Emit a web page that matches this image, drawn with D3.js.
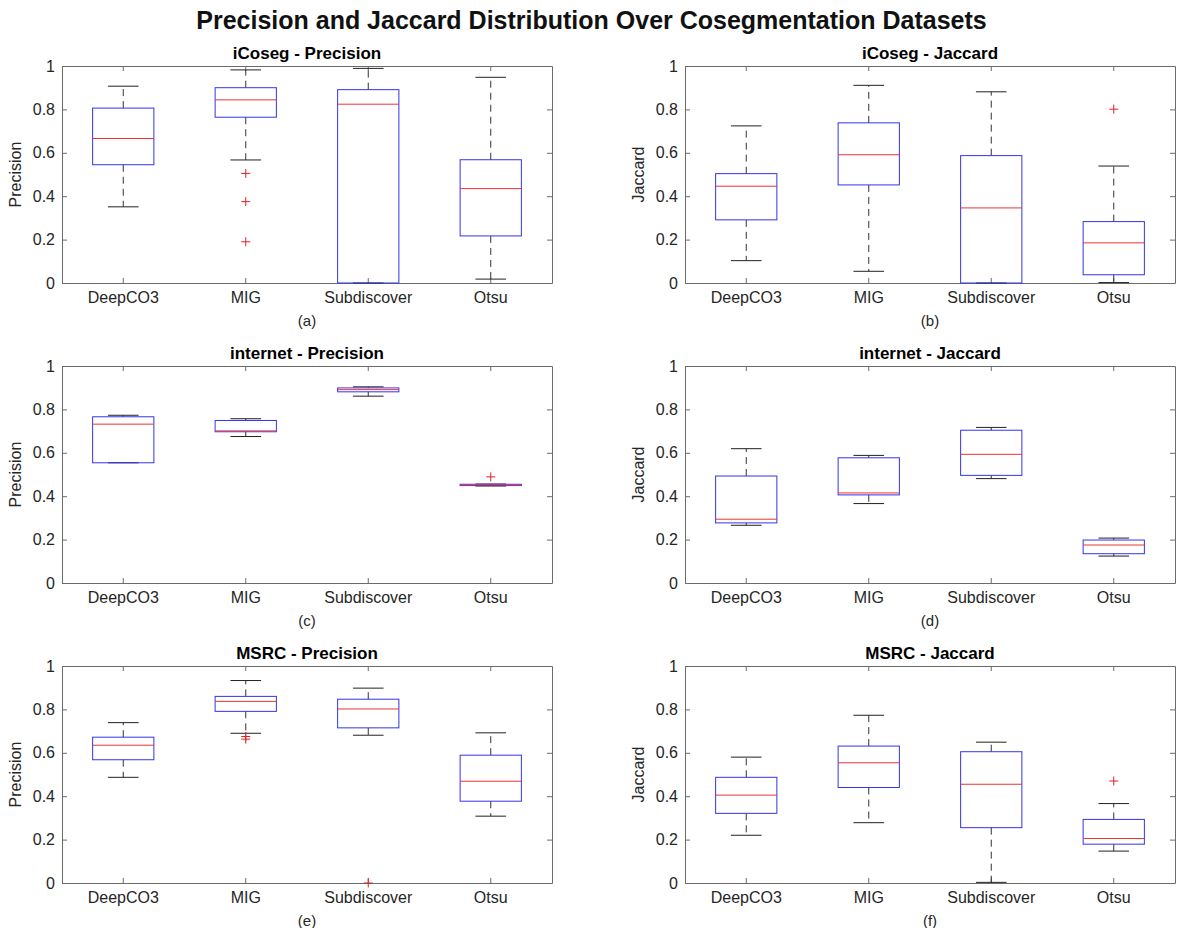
<!DOCTYPE html>
<html>
<head>
<meta charset="utf-8">
<script src="https://cdn.jsdelivr.net/npm/d3@7"></script>
<style>
  body { margin: 0; background: #fff; }
  text { font-family: "Liberation Sans", Arial, Helvetica, sans-serif; }
</style>
</head>
<body>
<svg id="chart"></svg>
<script>
// Categories and y ticks
const methods = ["DeepCO3", "MIG", "Subdiscover", "Otsu"];
const yTicks = [0, 0.2, 0.4, 0.6, 0.8, 1];

// Box stats per method: [lower whisker, Q1, median, Q3, upper whisker]
const icosegPrecision = [
  [0.351, 0.545, 0.666, 0.806, 0.907],
  [0.567, 0.764, 0.844, 0.900, 0.982],
  [0.000, 0.000, 0.824, 0.891, 0.989],
  [0.018, 0.217, 0.435, 0.568, 0.948]
];
const icosegPrecisionOut = [[], [0.505, 0.375, 0.190], [], []];

const icosegJaccard = [
  [0.103, 0.291, 0.446, 0.504, 0.724],
  [0.054, 0.452, 0.591, 0.738, 0.911],
  [0.000, 0.000, 0.346, 0.587, 0.881],
  [0.002, 0.038, 0.185, 0.283, 0.539]
];
const icosegJaccardOut = [[], [], [], [0.801]];

const internetPrecision = [
  [0.554, 0.554, 0.732, 0.766, 0.773],
  [0.675, 0.697, 0.701, 0.749, 0.757],
  [0.861, 0.881, 0.891, 0.899, 0.904],
  [0.447, 0.449, 0.452, 0.455, 0.456]
];
const internetPrecisionOut = [[], [], [], [0.489]];

const internetJaccard = [
  [0.266, 0.277, 0.294, 0.493, 0.619],
  [0.366, 0.406, 0.415, 0.577, 0.588],
  [0.481, 0.496, 0.593, 0.704, 0.717],
  [0.124, 0.135, 0.175, 0.198, 0.207]
];
const internetJaccardOut = [[], [], [], []];

const msrcPrecision = [
  [0.487, 0.568, 0.635, 0.672, 0.739],
  [0.690, 0.791, 0.837, 0.860, 0.933],
  [0.681, 0.715, 0.802, 0.847, 0.898],
  [0.308, 0.377, 0.469, 0.589, 0.692]
];
const msrcPrecisionOut = [[], [0.675, 0.663], [0], []];

const msrcJaccard = [
  [0.220, 0.321, 0.405, 0.487, 0.580],
  [0.278, 0.440, 0.554, 0.631, 0.773],
  [0.003, 0.255, 0.455, 0.605, 0.649],
  [0.147, 0.179, 0.205, 0.293, 0.366]
];
const msrcJaccardOut = [[], [], [], [0.470]];

const panels = [
  {title: "iCoseg - Precision", ylabel: "Precision", tag: "(a)", stats: icosegPrecision, out: icosegPrecisionOut},
  {title: "iCoseg - Jaccard", ylabel: "Jaccard", tag: "(b)", stats: icosegJaccard, out: icosegJaccardOut},
  {title: "internet - Precision", ylabel: "Precision", tag: "(c)", stats: internetPrecision, out: internetPrecisionOut},
  {title: "internet - Jaccard", ylabel: "Jaccard", tag: "(d)", stats: internetJaccard, out: internetJaccardOut},
  {title: "MSRC - Precision", ylabel: "Precision", tag: "(e)", stats: msrcPrecision, out: msrcPrecisionOut},
  {title: "MSRC - Jaccard", ylabel: "Jaccard", tag: "(f)", stats: msrcJaccard, out: msrcJaccardOut}
];

// Layout
const W = 1183, H = 928;
const colLeft = [62, 685], plotW = 490;
const rowTop = [66, 366, 666], plotH = 217;

const svg = d3.select("#chart")
    .attr("width", W)
    .attr("height", H);

svg.append("text")
    .attr("x", W / 2)
    .attr("y", 29)
    .attr("text-anchor", "middle")
    .attr("font-size", 25)
    .attr("font-weight", "bold")
    .attr("fill", "#111")
    .text("Precision and Jaccard Distribution Over Cosegmentation Datasets");

const x = d3.scaleBand().domain(methods).range([0, plotW]);
const y = d3.scaleLinear().domain([0, 1]).range([plotH, 0]);
const bw = x.bandwidth();
const cx = m => x(m) + bw / 2;

const axisColor = "#6b6b6b", labelColor = "#262626";

function styleAxis(g) {
  g.attr("font-size", 16).attr("font-family", "Liberation Sans, Arial, Helvetica, sans-serif");
  g.select(".domain").attr("stroke", axisColor);
  g.selectAll(".tick line").attr("stroke", axisColor);
  g.selectAll(".tick text").attr("fill", labelColor);
}

panels.forEach((p, i) => {
  const g = svg.append("g")
      .attr("transform", `translate(${colLeft[i % 2]},${rowTop[Math.floor(i / 2)]})`);

  // Axes (ticks inside, box on)
  g.append("g")
      .call(d3.axisLeft(y).tickValues(yTicks).tickFormat(d3.format("~g"))
        .tickSizeInner(-5).tickSizeOuter(0).tickPadding(7))
      .call(styleAxis);
  g.append("g")
      .attr("transform", `translate(${plotW},0)`)
      .call(d3.axisRight(y).tickValues(yTicks).tickFormat("")
        .tickSizeInner(-5).tickSizeOuter(0))
      .call(styleAxis);
  g.append("g")
      .attr("transform", `translate(0,${plotH})`)
      .call(d3.axisBottom(x).tickSizeInner(-5).tickSizeOuter(0).tickPadding(9))
      .call(styleAxis);
  g.append("g")
      .call(d3.axisTop(x).tickFormat("").tickSizeInner(-5).tickSizeOuter(0))
      .call(styleAxis);

  // Titles and labels
  g.append("text")
      .attr("x", plotW / 2)
      .attr("y", -7)
      .attr("text-anchor", "middle")
      .attr("font-size", 17)
      .attr("font-weight", "bold")
      .attr("fill", "#000")
      .text(p.title);

  g.append("text")
      .attr("transform", `translate(-41,${plotH / 2}) rotate(-90)`)
      .attr("text-anchor", "middle")
      .attr("font-size", 16)
      .attr("fill", labelColor)
      .text(p.ylabel);

  g.append("text")
      .attr("x", plotW / 2)
      .attr("y", plotH + 43)
      .attr("text-anchor", "middle")
      .attr("font-size", 15)
      .attr("fill", labelColor)
      .text(p.tag);

  const rows = methods.map((m, j) => ({m, s: p.stats[j], out: p.out[j]}));
  const b = g.selectAll(".bx").data(rows).enter().append("g").attr("class", "bx");

  // Whiskers (dashed)
  b.append("line")
      .attr("x1", d => cx(d.m)).attr("x2", d => cx(d.m))
      .attr("y1", d => y(d.s[3])).attr("y2", d => y(d.s[4]))
      .attr("stroke", "#333").attr("stroke-dasharray", "7,5");
  b.append("line")
      .attr("x1", d => cx(d.m)).attr("x2", d => cx(d.m))
      .attr("y1", d => y(d.s[1])).attr("y2", d => y(d.s[0]))
      .attr("stroke", "#333").attr("stroke-dasharray", "7,5");

  // Whisker caps
  [0, 4].forEach(k => {
    b.append("line")
        .attr("x1", d => cx(d.m) - bw / 8).attr("x2", d => cx(d.m) + bw / 8)
        .attr("y1", d => y(d.s[k])).attr("y2", d => y(d.s[k]))
        .attr("stroke", "#222");
  });

  // Boxes
  b.append("rect")
      .attr("x", d => cx(d.m) - bw / 4)
      .attr("width", bw / 2)
      .attr("y", d => y(d.s[3]))
      .attr("height", d => y(d.s[1]) - y(d.s[3]))
      .attr("fill", "none")
      .attr("stroke", "#3333ee");

  // Medians
  b.append("line")
      .attr("x1", d => cx(d.m) - bw / 4).attr("x2", d => cx(d.m) + bw / 4)
      .attr("y1", d => y(d.s[2])).attr("y2", d => y(d.s[2]))
      .attr("stroke", "#ee3333");

  // Outliers
  b.selectAll("path")
      .data(d => d.out.map(v => ({m: d.m, v})))
      .enter().append("path")
      .attr("transform", d => `translate(${cx(d.m)},${y(d.v)})`)
      .attr("d", "M-4.5,0H4.5M0,-4.5V4.5")
      .attr("stroke", "#e02020")
      .attr("fill", "none");
});
</script>
</body>
</html>
